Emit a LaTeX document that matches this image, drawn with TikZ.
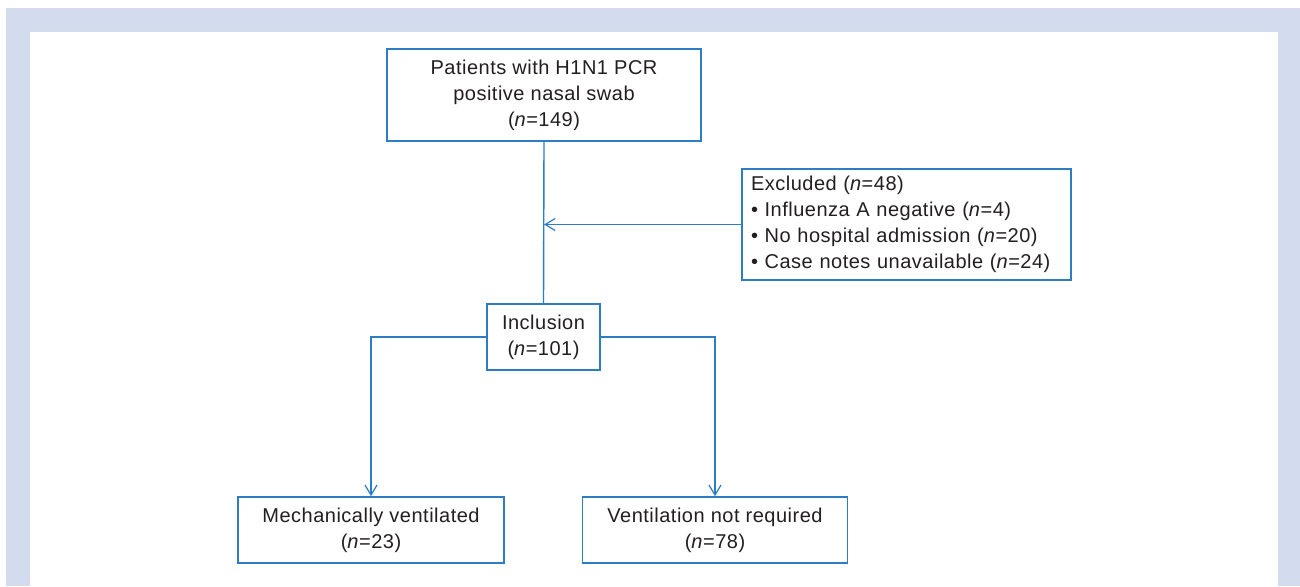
\documentclass[tikz,border=0pt]{standalone}
\usepackage{fontspec}
\setmainfont[LetterSpace=2.5]{Liberation Sans}
\usetikzlibrary{arrows.meta,positioning}
\definecolor{frameblue}{HTML}{D3DCEE}
\definecolor{lineblue}{HTML}{2E7DC2}
\definecolor{txt}{HTML}{231F20}
\tikzset{
  box/.style={draw=lineblue, line width=1.6pt, fill=white, inner sep=0pt, align=center, text=txt,
    font=\fontsize{20}{26}\selectfont},
  conn/.style={draw=lineblue, line width=1.4pt},
  arr/.style={conn, -{Straight Barb[length=10pt,width=12pt,line width=1.2pt]}},
}
\begin{document}
\begin{tikzpicture}[x=1pt,y=-1pt]
\useasboundingbox (0,0) rectangle (1300,586);
\fill[white] (0,0) rectangle (1300,586);
\fill[frameblue] (6,8) rectangle (1300,586);
\fill[white] (30,32) rectangle (1278,586);
\node[box, minimum width=314pt, minimum height=92pt] (top) at (544,95)
  {Patients with H1N1 PCR\\positive nasal swab\\(\textit{n}=149)};
\node[box, minimum width=329pt, minimum height=111pt, align=left, text width=311pt] (excl) at (906.5,224.5)
  {Excluded (\textit{n}=48)\\\textbullet{} Influenza A negative (\textit{n}=4)\\\textbullet{} No hospital admission (\textit{n}=20)\\\textbullet{} Case notes unavailable (\textit{n}=24)};
\node[box, minimum width=113pt, minimum height=66pt] (incl) at (543.5,337)
  {Inclusion\\(\textit{n}=101)};
\node[box, minimum width=266pt, minimum height=66pt] (mech) at (371,530)
  {Mechanically ventilated\\(\textit{n}=23)};
\node[box, minimum width=265pt, minimum height=66pt] (vent) at (715,530)
  {Ventilation not required\\(\textit{n}=78)};
\coordinate (join) at (top.south |- excl.west);
\draw[conn] (top.south) -- (incl.north);
\draw[arr] (excl.west) -- (join);
\draw[arr] (incl.west) -| (mech.north);
\draw[arr] (incl.east) -| (vent.north);
\end{tikzpicture}
\end{document}
